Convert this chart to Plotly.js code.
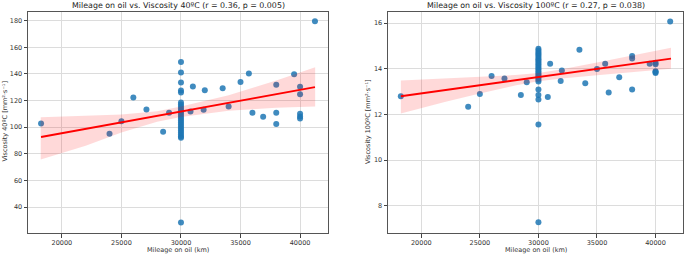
<!DOCTYPE html>
<html>
<head>
<meta charset="utf-8">
<script src="https://cdn.plot.ly/plotly-3.0.1.min.js"></script>
<style>html,body{margin:0;padding:0;background:#fff;}#chart{width:685px;height:255px;}</style>
</head>
<body>
<div id="chart"></div>
<script>
// Mileage on oil (km) for each sample
const mileage = [
  18250, 24000, 25000, 26000, 27100, 28500, 29000, 30800, 31000, 31900,
  32000, 33500, 34000, 35000, 35700, 36000, 36900, 38000, 38000, 38000,
  39500, 40000, 40000, 40000, 40000, 40000, 41250,
  30000, 30000, 30000, 30000, 30000, 30000, 30000, 30000, 30000, 30000,
  30000, 30000, 30000, 30000, 30000, 30000, 30000, 30000, 30000, 30000,
  30000, 30000, 30000, 30000, 30000
];
// Viscosity at 40 ºC (mm²/s)
const visc40 = [
  102.8, 95, 104.5, 122.3, 113.3, 96.5, 110.8, 111.8, 130.5, 113,
  127.8, 129.3, 115.5, 134, 140.3, 110.8, 107.8, 131.8, 110.8, 102.3,
  139.8, 130.3, 124.8, 110, 108, 106.5, 179.5,
  28.3, 92, 93, 94.5, 96, 97.5, 99, 100.5, 102, 103.5,
  105, 106.5, 108, 109.5, 111, 112.5, 114, 115.5, 117, 118.5,
  126, 127.5, 133.5, 141, 149
];
// Viscosity at 100 ºC (mm²/s)
const visc100 = [
  12.8, 12.34, 12.9, 13.69, 13.58, 12.86, 13.41, 12.77, 14.22, 13.47,
  13.93, 14.84, 13.37, 13.99, 14.22, 12.96, 13.63, 14.56, 14.45, 13.1,
  14.22, 14.27, 14.2, 13.9, 13.82, 13.86, 16.07,
  7.28, 11.56, 12.66, 12.85, 13.1, 13.45, 13.52, 13.6, 13.68, 13.75,
  13.82, 13.9, 13.98, 14.05, 14.12, 14.2, 14.28, 14.35, 14.42, 14.5,
  14.58, 14.65, 14.72, 14.8, 14.88
];

// Regression lines
const fit40X = [18250, 41250];
const fit40Y = [92.6, 130];
const fit100X = [18253, 41320];
const fit100Y = [12.8, 14.45];

// Confidence bands
const band40X = [18225, 20000, 22000, 25000, 28000, 30000, 34000, 38000, 41268];
const band40Up = [107.5, 108, 108.5, 109.5, 112, 115.5, 124, 135, 145];
const band40Lo = [75.7, 80.5, 86, 96, 104, 107.6, 112.3, 114.5, 115.5];
const band100X = [18253, 22000, 25000, 28000, 30000, 32000, 35000, 38000, 41320];
const band100Up = [13.49, 13.59, 13.64, 13.73, 13.82, 13.98, 14.28, 14.58, 14.92];
const band100Lo = [12.04, 12.55, 12.92, 13.27, 13.46, 13.58, 13.72, 13.84, 14.0];

// Tick labels
const xTicks = [20000, 25000, 30000, 35000, 40000];
const y40Ticks = [40, 60, 80, 100, 120, 140, 160, 180];
const y100Ticks = [8, 10, 12, 14, 16];

const titles = [
  'Mileage on oil vs. Viscosity 40ºC (r = 0.36, p = 0.005)',
  'Mileage on oil vs. Viscosity 100ºC (r = 0.27, p = 0.038)'
];
const xLabel = 'Mileage on oil (km)';
const yLabels = ['Viscosity 40ºC [mm²·s⁻¹]', 'Viscosity 100ºC [mm²·s⁻¹]'];

const W = 685, H = 255;
const ptColor = 'rgba(31,119,180,0.85)';
const bandColor = 'rgba(255,0,0,0.15)';

function panel(x, y, fx, fy, bx, bu, bl, xa, ya) {
  return [
    {x: x, y: y, mode: 'markers', type: 'scatter', xaxis: xa, yaxis: ya,
     marker: {color: ptColor, size: 6, line: {width: 0}}, hoverinfo: 'skip'},
    {x: bx, y: bl, mode: 'lines', type: 'scatter', xaxis: xa, yaxis: ya,
     line: {width: 0, color: 'rgba(0,0,0,0)'}, hoverinfo: 'skip'},
    {x: bx, y: bu, mode: 'lines', type: 'scatter', xaxis: xa, yaxis: ya, fill: 'tonexty',
     fillcolor: bandColor, line: {width: 0, color: 'rgba(0,0,0,0)'}, hoverinfo: 'skip'},
    {x: fx, y: fy, mode: 'lines', type: 'scatter', xaxis: xa, yaxis: ya,
     line: {color: '#ff0000', width: 1.8}, hoverinfo: 'skip'}
  ];
}

const data = [].concat(
  panel(mileage, visc40, fit40X, fit40Y, band40X, band40Up, band40Lo, 'x', 'y'),
  panel(mileage, visc100, fit100X, fit100Y, band100X, band100Up, band100Lo, 'x2', 'y2')
);

const axCommon = {
  showline: true, mirror: true, linecolor: '#555', linewidth: 1,
  showgrid: true, gridcolor: '#dcdcdc', gridwidth: 1,
  ticks: 'outside', ticklen: 3.5, tickwidth: 1, tickcolor: '#444',
  tickfont: {size: 6.5, color: '#333', family: 'DejaVu Sans'},
  zeroline: false, fixedrange: true, tickmode: 'array'
};

const yDom = [1 - 233 / H, 1 - 12 / H];
const layout = {
  width: W, height: H,
  margin: {l: 0, r: 0, t: 0, b: 0, pad: 0},
  paper_bgcolor: '#fff', plot_bgcolor: '#fff',
  showlegend: false,
  font: {family: 'DejaVu Sans', color: '#222'},
  xaxis: Object.assign({}, axCommon, {domain: [28 / W, 328 / W], range: [17155, 42345],
    tickvals: xTicks, ticktext: xTicks.map(String), anchor: 'y'}),
  yaxis: Object.assign({}, axCommon, {domain: yDom, range: [20.5, 186.5],
    tickvals: y40Ticks, ticktext: y40Ticks.map(String), anchor: 'x'}),
  xaxis2: Object.assign({}, axCommon, {domain: [388 / W, 683 / W], range: [17155, 42345],
    tickvals: xTicks, ticktext: xTicks.map(String), anchor: 'y2'}),
  yaxis2: Object.assign({}, axCommon, {domain: yDom, range: [6.81, 16.49],
    tickvals: y100Ticks, ticktext: y100Ticks.map(String), anchor: 'x2'}),
  annotations: [
    {text: titles[0], x: 178 / W, y: 1 - 5 / H, xref: 'paper', yref: 'paper',
     xanchor: 'center', yanchor: 'middle', showarrow: false, font: {size: 7.9, color: '#222'}},
    {text: titles[1], x: 535.5 / W, y: 1 - 5 / H, xref: 'paper', yref: 'paper',
     xanchor: 'center', yanchor: 'middle', showarrow: false, font: {size: 7.9, color: '#222'}},
    {text: xLabel, x: 178 / W, y: 1 - 249.5 / H, xref: 'paper', yref: 'paper',
     xanchor: 'center', yanchor: 'middle', showarrow: false, font: {size: 6.5, color: '#333'}},
    {text: xLabel, x: 536 / W, y: 1 - 249.5 / H, xref: 'paper', yref: 'paper',
     xanchor: 'center', yanchor: 'middle', showarrow: false, font: {size: 6.5, color: '#333'}},
    {text: yLabels[0], x: 4.5 / W, y: 1 - 122 / H, xref: 'paper', yref: 'paper', textangle: -90,
     xanchor: 'center', yanchor: 'middle', showarrow: false, font: {size: 6.5, color: '#333'}},
    {text: yLabels[1], x: 368 / W, y: 1 - 122 / H, xref: 'paper', yref: 'paper', textangle: -90,
     xanchor: 'center', yanchor: 'middle', showarrow: false, font: {size: 6.5, color: '#333'}}
  ]
};

Plotly.newPlot('chart', data, layout, {staticPlot: true, displayModeBar: false});
</script>
</body>
</html>
